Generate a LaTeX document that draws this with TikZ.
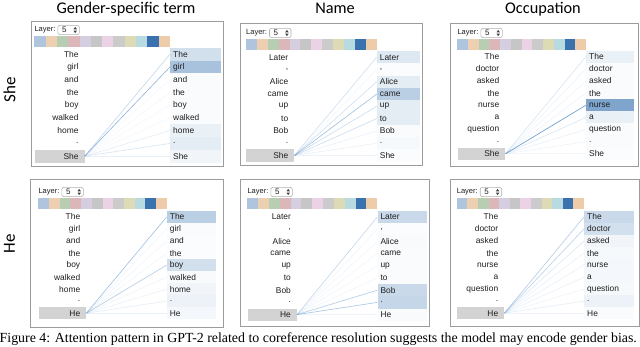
\documentclass[tikz,border=0pt]{standalone}
\usepackage{fontspec}
\newfontfamily\tokfont{Liberation Sans}
\newfontfamily\ttlfont{Carlito}
\newfontfamily\capfont{Liberation Serif}
\definecolor{attblue}{HTML}{4A7FB8}
\definecolor{lineblue}{HTML}{5A92CC}
\definecolor{qgray}{HTML}{D3D3D3}
\definecolor{pbord}{HTML}{9C9C9C}
\definecolor{tokc}{HTML}{1E1E1E}
\definecolor{hA}{HTML}{AFC4DD}
\definecolor{hB}{HTML}{EDCFB2}
\definecolor{hC}{HTML}{B8CEB3}
\definecolor{hD}{HTML}{DCB7B9}
\definecolor{hE}{HTML}{D5CEE0}
\definecolor{hF}{HTML}{C6C6C6}
\definecolor{hG}{HTML}{EBD2E5}
\definecolor{hH}{HTML}{CBCBCB}
\definecolor{hI}{HTML}{DDDBB6}
\definecolor{hJ}{HTML}{B7DBE1}
\definecolor{hK}{HTML}{3A72B0}
\definecolor{hL}{HTML}{EECCAA}
\tikzset{
  pborder/.style={draw=pbord, line width=0.9pt},
  layertxt/.style={font=\tokfont\fontsize{7.5}{8}\selectfont, text=tokc, inner sep=0pt},
  dropbox/.style={draw=black!30, fill=white, rounded corners=2pt, line width=0.6pt},
  arrowc/.style={fill=black!75},
  ltok/.style={font=\tokfont\fontsize{8.4}{9}\selectfont, text=tokc, inner xsep=6pt, inner ysep=0pt, align=right},
  qbox/.style={ltok, fill=qgray},
  rtok/.style={font=\tokfont\fontsize{8.4}{9}\selectfont, text=tokc, inner xsep=3pt, inner ysep=0pt, align=left},
  attline/.style={draw=lineblue, line width=0.65pt},
  ttl/.style={font=\ttlfont\fontsize{16.3}{18}\selectfont, inner sep=0pt, anchor=base},
  side/.style={font=\ttlfont\fontsize{17}{19}\selectfont, inner sep=0pt, rotate=90},
}
\pgfkeys{/pn/.cd,
  id/.store in=\pnid, L/.store in=\pnL, T/.store in=\pnT, R/.store in=\pnR, B/.store in=\pnB,
  cx/.store in=\pncx, sx/.store in=\pnsx, crx/.store in=\pncrx, bx/.store in=\pnbx,
  st/.store in=\pnst, rt/.store in=\pnrt, rh/.store in=\pnrh}
\newcommand\attpanel[2]{%
  \pgfkeys{/pn/.cd,#1}%
  \draw[pborder] (\pnL,\pnT) rectangle (\pnR,\pnB);
  \pgfmathsetmacro\ly{\pnst-6.3}
  \node[layertxt, anchor=west] (\pnid lay) at (\pncx,\ly) {Layer:};
  \draw[dropbox] (\pncx+23.5,\ly-4.6) rectangle (\pncx+45,\ly+4.6);
  \node[layertxt, anchor=west, font=\tokfont\fontsize{8}{9}\selectfont] (\pnid five) at (\pncx+27.5,\ly) {5};
  \fill[arrowc] (\pncx+39.2,\ly-0.7) -- (\pncx+42.6,\ly-0.7) -- (\pncx+40.9,\ly-3.1) -- cycle;
  \fill[arrowc] (\pncx+39.2,\ly+0.7) -- (\pncx+42.6,\ly+0.7) -- (\pncx+40.9,\ly+3.1) -- cycle;
  \pgfmathsetmacro\sw{(\pnsx-\pncx)/12}
  \foreach \c [count=\k from 0] in {hA,hB,hC,hD,hE,hF,hG,hH,hI,hJ,hK,hL}
    \fill[\c] (\pncx+\k*\sw,\pnst) rectangle ++(\sw,10.7);
  \pgfmathsetmacro\bw{\pnbx-\pncx}
  \pgfmathsetmacro\btw{\bw-12}
  \pgfmathsetmacro\cw{\pncrx-\pnsx}
  \pgfmathsetmacro\ctw{\cw-6}
  \foreach \w/\a/\o [count=\i from 0] in {#2} {
    \pgfmathsetmacro\yy{\pnrt+\i*\pnrh}
    \ifnum\i<8
      \node[ltok, text width=\btw pt, minimum height=\pnrh pt, anchor=north west] (\pnid l\i) at (\pncx,\yy) {\w};
    \else
      \node[qbox, text width=\btw pt, minimum height=\pnrh pt, anchor=north west] (\pnid q) at (\pncx,\yy) {\w};
    \fi
    \node[rtok, fill=attblue!\a!white, text width=\ctw pt, minimum height=\pnrh pt, anchor=north west] (\pnid r\i) at (\pnsx,\yy) {\w};
  }
  \foreach \w/\a/\o [count=\i from 0] in {#2} {
    \pgfmathsetmacro\op{\o/100}
    \draw[attline, draw opacity=\op] (\pnid q.east) -- (\pnid r\i.west);
  }
}
\begin{document}
\begin{tikzpicture}[x=1pt,y=-1pt]
\useasboundingbox (0,0) rectangle (640,346);
\fill[white] (0,0) rectangle (640,346);
% titles
\node[ttl] (t1) at (126,13.5) {Gender-specific term};
\node[ttl] (t2) at (335,13.5) {Name};
\node[ttl] (t3) at (543,13.5) {Occupation};
\node[side] (she) at (9.5,90) {She};
\node[side] (he) at (9.5,244) {He};
% panels
\attpanel{id=pa, L=31.7, T=21.3, R=223.3, B=166.7, cx=34.3, sx=170, crx=221, bx=84.3, st=36.3, rt=47.6, rh=12.75}
  {The/25/35, girl/48/65, and/3/6, the/3/6, boy/3/6, walked/3/6, home/12/16, ./15/22, She/8/15}
\attpanel{id=pb, L=240.7, T=23.3, R=422.7, B=165.7, cx=246, sx=376.7, crx=420, bx=294, st=39.3, rt=50.8, rh=12.3}
  {Later/18/28, {,}/2/8, Alice/15/28, came/38/55, up/15/30, to/15/30, Bob/3/12, ./5/12, She/2/10}
\attpanel{id=pc, L=450.7, T=23.3, R=638.3, B=166.7, cx=457.3, sx=586, crx=634, bx=505, st=39.3, rt=50.3, rh=12.15}
  {The/12/22, doctor/3/10, asked/3/10, the/3/10, nurse/70/90, a/12/22, question/3/12, ./3/10, She/2/8}
\attpanel{id=pd, L=30.7, T=179.3, R=223.3, B=327.2, cx=38.3, sx=166.7, crx=215.5, bx=86, st=198.3, rt=210.7, rh=12.03}
  {The/38/55, girl/3/8, and/2/8, the/2/8, boy/25/45, walked/4/10, home/8/12, ./10/15, He/6/12}
\attpanel{id=pe, L=240.7, T=179.3, R=429.5, B=326.7, cx=247.3, sx=377.3, crx=426.7, bx=296.7, st=198.3, rt=210.7, rh=12.2}
  {Later/30/35, {,}/2/8, Alice/4/8, came/3/8, up/3/8, to/3/8, Bob/30/45, ./32/50, He/4/10}
\attpanel{id=pf, L=450.7, T=179.3, R=639.3, B=326.7, cx=456.7, sx=584, crx=633.3, bx=504, st=198.3, rt=210.7, rh=12.03}
  {The/30/45, doctor/25/40, asked/8/20, the/5/12, nurse/6/12, a/6/12, question/5/10, ./10/15, He/3/10}
% caption
\node[font=\capfont\fontsize{13.9}{15}\selectfont, anchor=base west, inner sep=0pt] (cap) at (-0.5,342.8) {Figure 4: Attention pattern in GPT-2 related to coreference resolution suggests the model may encode gender bias.};
\end{tikzpicture}
\end{document}
